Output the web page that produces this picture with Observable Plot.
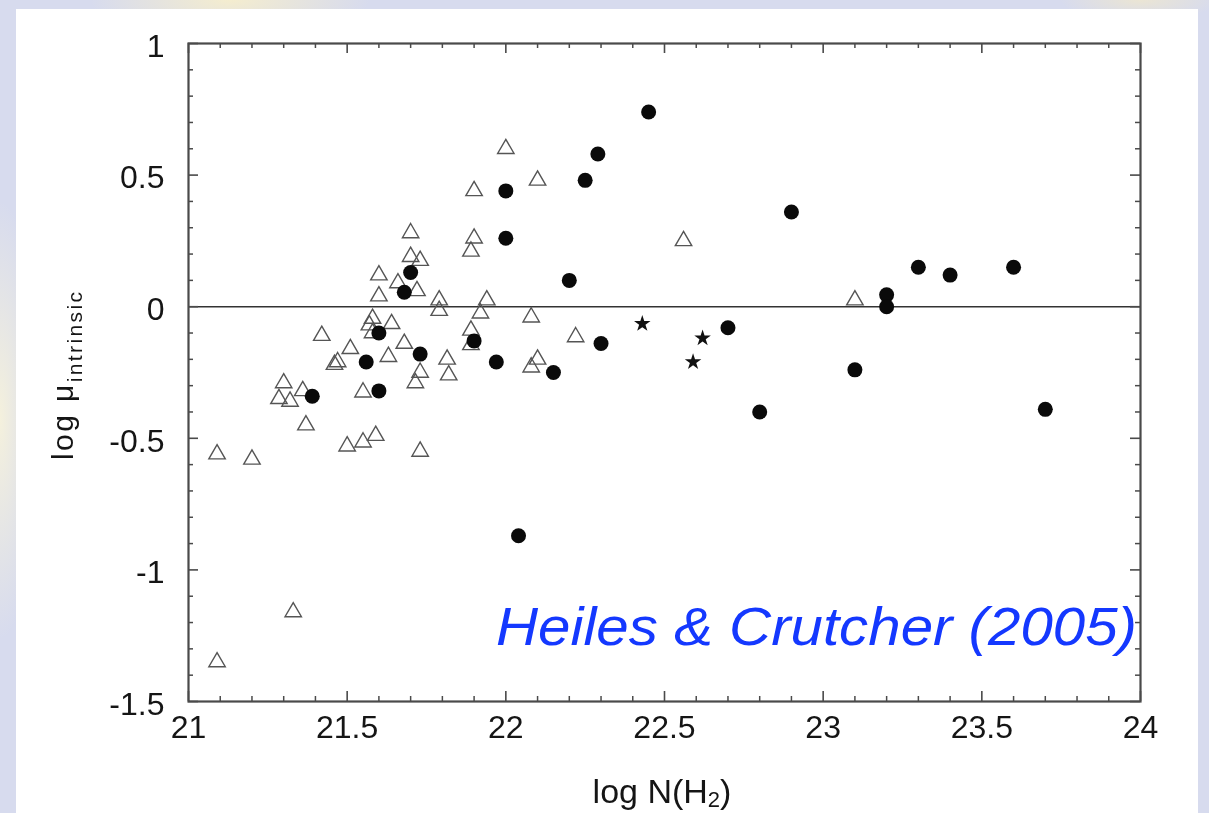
<!DOCTYPE html>
<html>
<head>
<meta charset="utf-8">
<script src="https://cdn.jsdelivr.net/npm/d3@7"></script>
<script src="https://cdn.jsdelivr.net/npm/@observablehq/plot@0.6"></script>
<style>
html, body { margin: 0; padding: 0; width: 1209px; height: 813px; overflow: hidden; }
body {
  position: relative;
  background:
    radial-gradient(ellipse 140px 40px at 230px 0px, rgba(246,238,205,0.95), rgba(246,238,205,0) 100%),
    radial-gradient(ellipse 40px 220px at 0px 420px, rgba(246,242,220,0.95), rgba(246,242,220,0) 100%),
    radial-gradient(ellipse 80px 20px at 1140px 0px, rgba(240,232,205,0.8), rgba(240,232,205,0) 100%),
    #d7dbee;
}
#panel { position: absolute; left: 16px; top: 9px; width: 1182px; height: 810px; background: #fff; }
#chart { position: absolute; left: 0; top: 0; filter: blur(0.45px); }
</style>
</head>
<body>
<div id="panel"></div>
<div id="chart"></div>
<script>
// ---- data (log N(H2), log mu_intrinsic) ----
const triangles = [
  [21.09, -0.56], [21.2, -0.58], [21.09, -1.35], [21.33, -1.16],
  [21.3, -0.29], [21.285, -0.35], [21.32, -0.36], [21.36, -0.32], [21.37, -0.45],
  [21.42, -0.11], [21.47, -0.21], [21.46, -0.22], [21.51, -0.16], [21.5, -0.53],
  [21.55, -0.515], [21.59, -0.49], [21.55, -0.325], [21.57, -0.07], [21.58, -0.045],
  [21.58, -0.10], [21.64, -0.065], [21.63, -0.19], [21.68, -0.14], [21.6, 0.12],
  [21.6, 0.04], [21.66, 0.09], [21.72, 0.06], [21.7, 0.28], [21.7, 0.19],
  [21.73, 0.175], [21.79, 0.025], [21.79, -0.015], [21.73, -0.25], [21.715, -0.29],
  [21.73, -0.55], [21.815, -0.20], [21.82, -0.26], [21.89, -0.09], [21.89, -0.145],
  [21.9, 0.44], [21.9, 0.26], [21.89, 0.21], [21.94, 0.025], [21.92, -0.025],
  [22.0, 0.60], [22.1, 0.48], [22.08, -0.04], [22.1, -0.20], [22.08, -0.23],
  [22.22, -0.115], [22.56, 0.25], [23.1, 0.025]
];
const circles = [
  [22.45, 0.74], [22.29, 0.58], [22.25, 0.48], [22.0, 0.44], [22.0, 0.26],
  [22.9, 0.36], [22.2, 0.10], [21.7, 0.13], [21.68, 0.055], [21.6, -0.10],
  [21.56, -0.21], [21.6, -0.32], [21.39, -0.34], [21.73, -0.18], [21.9, -0.13],
  [21.97, -0.21], [22.15, -0.25], [22.3, -0.14], [22.7, -0.08], [22.04, -0.87],
  [22.8, -0.40], [23.1, -0.24], [23.2, 0.045], [23.2, 0.0], [23.3, 0.15],
  [23.4, 0.12], [23.6, 0.15], [23.7, -0.39]
];
const stars = [
  [22.43, -0.065], [22.62, -0.12], [22.59, -0.21]
];
const xTicks = [21, 21.5, 22, 22.5, 23, 23.5, 24];
const xTickLabels = ["21", "21.5", "22", "22.5", "23", "23.5", "24"];
const yTicks = [-1.5, -1, -0.5, 0, 0.5, 1];
const yTickLabels = ["-1.5", "-1", "-0.5", "0", "0.5", "1"];
const xMinor = d3.range(0, 31).map(i => 21 + i / 10).filter(v => Math.abs(v * 2 - Math.round(v * 2)) > 1e-6);
const yMinor = d3.range(0, 26).map(i => -1.5 + i / 10).filter(v => Math.abs(v * 2 - Math.round(v * 2)) > 1e-6);
const xLabelText = "log N(H";
const yLabelText = "log μ";
const yLabelSub = "intrinsic";
const credit = "Heiles & Crutcher (2005)";

// ---- layout ----
const W = 1209, H = 813;
const mL = 188, mR = 69, mT = 43, mB = 112;
const plotW = W - mL - mR, plotH = H - mT - mB;
const major = 10, minor = 5;
const axisColor = "#4a4a4a";
const font = "'Liberation Sans', Arial, Helvetica, sans-serif";

const xFmt = d => xTickLabels[xTicks.indexOf(d)];
const yFmt = d => yTickLabels[yTicks.indexOf(d)];

const chart = Plot.plot({
  width: W, height: H,
  marginLeft: mL, marginRight: mR, marginTop: mT, marginBottom: mB,
  style: { background: "transparent", fontFamily: font, fontSize: "32px", color: "#151515", overflow: "visible" },
  x: { domain: [21, 24] },
  y: { domain: [-1.5, 1] },
  marks: [
    Plot.ruleY([0], { stroke: "#333", strokeWidth: 1.6 }),
    // inward ticks, bottom & top
    Plot.tickX(xMinor, { x: d => d, insetTop: plotH - minor, stroke: axisColor, strokeWidth: 1.5 }),
    Plot.tickX(xMinor, { x: d => d, insetBottom: plotH - minor, stroke: axisColor, strokeWidth: 1.5 }),
    Plot.tickX(xTicks, { x: d => d, insetTop: plotH - major, stroke: axisColor, strokeWidth: 1.6 }),
    Plot.tickX(xTicks, { x: d => d, insetBottom: plotH - major, stroke: axisColor, strokeWidth: 1.6 }),
    // inward ticks, left & right
    Plot.tickY(yMinor, { y: d => d, insetRight: plotW - minor, stroke: axisColor, strokeWidth: 1.5 }),
    Plot.tickY(yMinor, { y: d => d, insetLeft: plotW - minor, stroke: axisColor, strokeWidth: 1.5 }),
    Plot.tickY(yTicks, { y: d => d, insetRight: plotW - major, stroke: axisColor, strokeWidth: 1.6 }),
    Plot.tickY(yTicks, { y: d => d, insetLeft: plotW - major, stroke: axisColor, strokeWidth: 1.6 }),
    Plot.frame({ stroke: axisColor, strokeWidth: 2.2 }),
    Plot.axisX(xTicks, { tickSize: 0, tickPadding: 14, tickFormat: xFmt, label: null, fill: "#151515", fontSize: 32 }),
    Plot.axisY(yTicks, { tickSize: 0, tickPadding: 24, tickFormat: yFmt, label: null, fill: "#151515", fontSize: 32, dy: 3 }),
    // data
    Plot.dot(triangles, { x: d => d[0], y: d => d[1], symbol: "triangle", r: 6.1, fill: "none", stroke: "#555", strokeWidth: 1.4 }),
    Plot.dot(stars, { x: d => d[0], y: d => d[1], symbol: "star", r: 5.2, fill: "#111", stroke: "none" }),
    Plot.dot(circles, { x: d => d[0], y: d => d[1], symbol: "circle", r: 7.5, fill: "#0a0a0a", stroke: "none" })
  ]
});

document.getElementById("chart").appendChild(chart);
const svg = d3.select(chart);

// x label with subscript
const xl = svg.append("text")
  .attr("x", 662).attr("y", 803)
  .attr("text-anchor", "middle")
  .style("font-family", font).style("font-size", "34px").attr("fill", "#151515");
xl.append("tspan").text(xLabelText);
xl.append("tspan").attr("dy", 4).style("font-size", "22px").text("2");
xl.append("tspan").attr("dy", -4).text(")");

// y label with subscript
const yl = svg.append("text")
  .attr("transform", "translate(73,460) rotate(-90)")
  .attr("text-anchor", "start")
  .style("font-family", font).style("font-size", "30px").style("letter-spacing", "2.4px").attr("fill", "#151515");
yl.append("tspan").text(yLabelText);
yl.append("tspan").attr("dy", 9).style("font-size", "21px").text(yLabelSub);

// credit text
svg.append("text")
  .attr("x", 496).attr("y", 645)
  .attr("text-anchor", "start")
  .attr("textLength", 641).attr("lengthAdjust", "spacingAndGlyphs")
  .style("font-family", font).style("font-size", "54px").style("font-style", "italic")
  .attr("fill", "#1438ff")
  .text(credit);
</script>
</body>
</html>
